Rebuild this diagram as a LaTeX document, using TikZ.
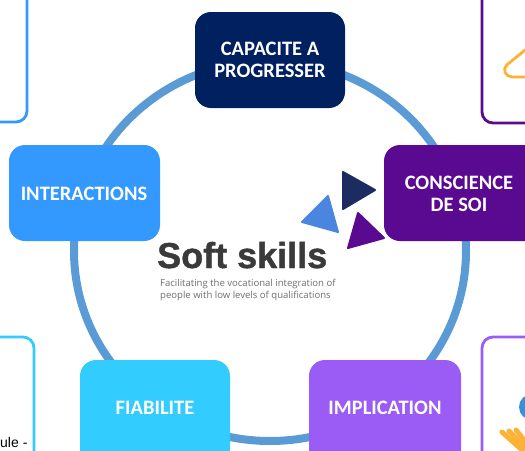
\documentclass[tikz,border=0pt]{standalone}
\usepackage{fontspec}
\usetikzlibrary{shapes.geometric}
\setmainfont{Carlito}
\newfontfamily\logofont[FakeBold=1.2]{Liberation Sans}
\newfontfamily\fragfont{Liberation Sans}
\newfontfamily\subfont{Open Sans}
\definecolor{ringblue}{HTML}{5B9BD5}
\definecolor{navy}{HTML}{002060}
\definecolor{skyb}{HTML}{3399FF}
\definecolor{deeppurple}{HTML}{5A0A91}
\definecolor{cyanb}{HTML}{33CCFF}
\definecolor{violetb}{HTML}{9B5CF6}
\definecolor{trinavy}{HTML}{1C2B60}
\definecolor{triblue}{HTML}{4A86E0}
\definecolor{logotxt}{HTML}{3A3A3A}
\definecolor{subtxt}{HTML}{6E6E6E}
\definecolor{iconorange}{HTML}{FDB235}
\definecolor{iconblue}{HTML}{3A8FD8}
\tikzset{
  x=1pt,y=-1pt,
  skillbox/.style={rounded corners=16pt,text=white,font=\fontsize{20.5}{22}\selectfont\bfseries,align=center,inner sep=0pt,anchor=center},
  sidecard/.style={draw,line width=2.8pt,rounded corners=11pt},
  tri/.style={line join=round,line width=2pt,draw=#1,fill=#1},
}
\begin{document}
\begin{tikzpicture}
\useasboundingbox (0,0) rectangle (525,450);
\clip (0,0) rectangle (525,450);
% ring
\node[ellipse,draw=ringblue,line width=8pt,minimum width=392pt,minimum height=380pt,inner sep=0pt] (ring) at (270,251) {};
% side cards
\draw[sidecard,draw=skyb] (-30,-30) rectangle (27,122);
\draw[sidecard,draw=deeppurple] (482,-30) rectangle (560,123);
\draw[sidecard,draw=cyanb] (-30,337) rectangle (34,480);
\draw[sidecard,draw=violetb] (482,337) rectangle (560,480);
\node[anchor=base west,inner sep=0pt,font=\fontsize{14}{16}\selectfont\fragfont,text=black] (frag) at (0,447) {ule -};
% icons
\draw[iconorange,line width=2.8pt,line join=round,rounded corners=5pt] (535,42) -- (503,68) -- (507,77) -- (535,77);
\fill[iconblue] (532,407) circle (13);
\foreach \a in {0,1,2}{
  \draw[iconorange,line width=5pt,line cap=round] ({502+\a*7},{432-\a*1}) -- ({522+\a*5},450);
}
% boxes
\draw[skillbox,fill=navy,draw=none] (195,12) rectangle (345,108);
\node[skillbox] (cap) at (270,60) {CAPACITE A\\PROGRESSER};
\draw[skillbox,fill=skyb,draw=none] (9,145) rectangle (160,241);
\node[skillbox] (int) at (84,193.5) {INTERACTIONS};
\draw[skillbox,fill=deeppurple,draw=none] (384,145) rectangle (545,241);
\node[skillbox] (con) at (459,193.5) {CONSCIENCE\\DE SOI};
\draw[skillbox,fill=cyanb,draw=none] (80,360) rectangle (230,480);
\node[skillbox] (fia) at (155,408) {FIABILITE};
\draw[skillbox,fill=violetb,draw=none] (309,360) rectangle (461,480);
\node[skillbox] (imp) at (385,408) {IMPLICATION};
% logo triangles
\draw[tri=trinavy] (343,172) -- (375,190) -- (343,209) -- cycle;
\draw[tri=triblue] (302,222) -- (328,196) -- (338,232) -- cycle;
\draw[tri=deeppurple] (358,213) -- (384,238) -- (348,248) -- cycle;
% logo text
\node[anchor=base west,inner sep=0pt,text=logotxt,font=\fontsize{36}{38}\selectfont\logofont\bfseries] (logo) at (157,268) {Soft skills};
\node[anchor=base west,inner sep=0pt,text=subtxt,font=\fontsize{9.55}{10}\selectfont\subfont] (sub1) at (160,286) {Facilitating the vocational integration of};
\node[anchor=base west,inner sep=0pt,text=subtxt,font=\fontsize{9.55}{10}\selectfont\subfont] (sub2) at (160,298.5) {people with low levels of qualifications};
\end{tikzpicture}
\end{document}
